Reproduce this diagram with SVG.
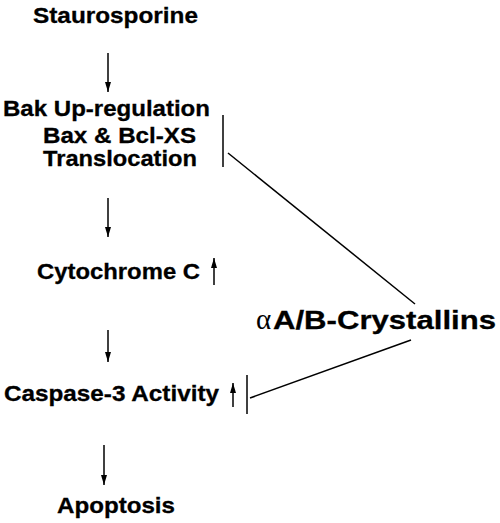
<svg xmlns="http://www.w3.org/2000/svg" width="500" height="523" viewBox="0 0 500 523">
<defs>
<marker id="ah" viewBox="0 0 10 8" refX="10" refY="4" markerWidth="10" markerHeight="8" markerUnits="userSpaceOnUse" orient="auto">
<path d="M0,1 L10,4 L0,7 Z" fill="#000"/>
</marker>
<style>
.t{font-family:"Liberation Sans",Arial,Helvetica,sans-serif;font-weight:bold;font-size:22.5px;fill:#000;stroke:#000;stroke-width:0.3}
.big{font-size:26px}
.g{font-family:"Liberation Serif","Times New Roman",serif;font-weight:normal;font-size:29px;fill:#000}
.c{stroke:#000;stroke-width:1.5;fill:none}
.a{marker-end:url(#ah)}
</style>
</defs>
<rect width="500" height="523" fill="#fff"/>
<g id="staurosporine"><text class="t" x="33" y="23" textLength="165" lengthAdjust="spacingAndGlyphs">Staurosporine</text></g>
<g id="bak"><text class="t" x="3" y="116" textLength="207" lengthAdjust="spacingAndGlyphs">Bak Up-regulation</text>
<text class="t" x="43" y="143" textLength="153" lengthAdjust="spacingAndGlyphs">Bax &amp; Bcl-XS</text>
<text class="t" x="43" y="166" textLength="154" lengthAdjust="spacingAndGlyphs">Translocation</text></g>
<g id="cytochrome"><text class="t" x="37" y="279" textLength="163" lengthAdjust="spacingAndGlyphs">Cytochrome C</text></g>
<g id="caspase"><text class="t" x="4" y="401" textLength="215" lengthAdjust="spacingAndGlyphs">Caspase-3 Activity</text></g>
<g id="apoptosis"><text class="t" x="57" y="513" textLength="118" lengthAdjust="spacingAndGlyphs">Apoptosis</text></g>
<g id="crystallins"><text x="256" y="329"><tspan class="g">α</tspan><tspan class="t big" x="273" textLength="223" lengthAdjust="spacingAndGlyphs">A/B-Crystallins</tspan></text></g>
<g id="connectors">
<line class="c a" x1="108" y1="53" x2="108" y2="92"/>
<line class="c a" x1="108" y1="198" x2="108" y2="237"/>
<line class="c a" x1="108" y1="330" x2="108" y2="362"/>
<line class="c a" x1="104" y1="445" x2="104" y2="485"/>
<line class="c a" x1="214" y1="285" x2="214" y2="258"/>
<line class="c a" x1="233" y1="407" x2="233" y2="383"/>
<line class="c" x1="223" y1="115" x2="223" y2="167"/>
<line class="c" x1="228" y1="153" x2="415" y2="304"/>
<line class="c" x1="247" y1="375" x2="247" y2="414"/>
<line class="c" x1="250" y1="398" x2="411" y2="340"/>
</g>
</svg>
